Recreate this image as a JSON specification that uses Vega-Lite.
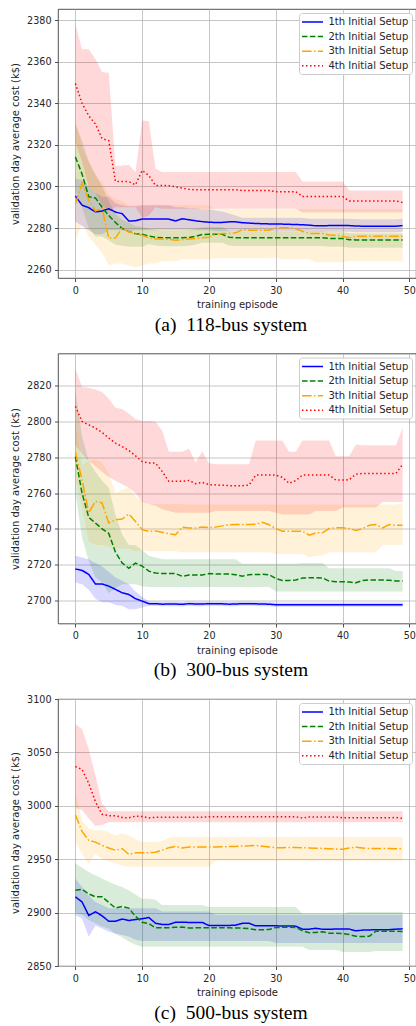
{
"$schema":"https://vega.github.io/schema/vega-lite/v6.json",
"padding":{"left":10,"top":8,"right":0,"bottom":0},
"background":"white",
"config":{
 "font":"DejaVu Sans",
 "view":{"stroke":"#262626","strokeWidth":0.8},
 "axis":{"labelFont":"DejaVu Sans","labelFontSize":9.6,"labelColor":"#262626","titleFont":"DejaVu Sans","titleFontSize":10,"titleFontWeight":"normal","titleColor":"#262626","domain":false,"tickColor":"#262626","tickSize":3.5,"tickWidth":0.8,"labelPadding":3.5,"gridColor":"#b8b8b8","gridWidth":0.8},
 "legend":{"fillColor":"rgba(255,255,255,0.85)","strokeColor":"#cccccc","cornerRadius":3,"padding":3,"symbolType":"M-2,0H2","symbolSize":110.25,"symbolStrokeWidth":1.5,"symbolOffset":4.5,"labelFont":"DejaVu Sans","labelFontSize":10,"labelColor":"#262626","labelOffset":10,"rowPadding":3.6}
},
"datasets":{"d":[
{"p":1,"k":1,"x":0,"m":2295.4,"l":2283,"h":2304},{"p":1,"k":1,"x":1,"m":2291,"l":2281,"h":2303},{"p":1,"k":1,"x":2,"m":2289.8,"l":2279,"h":2300},{"p":1,"k":1,"x":3,"m":2287.8,"l":2277,"h":2297},{"p":1,"k":1,"x":4,"m":2288.2,"l":2277,"h":2295},{"p":1,"k":1,"x":5,"m":2289.3,"l":2279,"h":2295},{"p":1,"k":1,"x":6,"m":2287.7,"l":2279,"h":2292},{"p":1,"k":1,"x":7,"m":2286.9,"l":2279,"h":2291},{"p":1,"k":1,"x":8,"m":2283.4,"l":2278.5,"h":2290.5},{"p":1,"k":1,"x":9,"m":2283.5,"l":2279,"h":2290.5},
{"p":1,"k":1,"x":10,"m":2284.4,"l":2279,"h":2291},{"p":1,"k":1,"x":11,"m":2284.4,"l":2279,"h":2291},{"p":1,"k":1,"x":12,"m":2284.3,"l":2279,"h":2291},{"p":1,"k":1,"x":13,"m":2284.4,"l":2279,"h":2291},{"p":1,"k":1,"x":14,"m":2284.3,"l":2279,"h":2291},{"p":1,"k":1,"x":15,"m":2283.4,"l":2279,"h":2290},{"p":1,"k":1,"x":16,"m":2284.5,"l":2279,"h":2290},{"p":1,"k":1,"x":17,"m":2284,"l":2279,"h":2289.5},{"p":1,"k":1,"x":18,"m":2283.5,"l":2279,"h":2289.5},{"p":1,"k":1,"x":19,"m":2283.1,"l":2279,"h":2289},
{"p":1,"k":1,"x":20,"m":2282.8,"l":2279,"h":2289},{"p":1,"k":1,"x":21,"m":2282.7,"l":2278.5,"h":2288.5},{"p":1,"k":1,"x":22,"m":2282.7,"l":2278.5,"h":2288},{"p":1,"k":1,"x":23,"m":2283,"l":2278.5,"h":2287},{"p":1,"k":1,"x":24,"m":2283,"l":2278.5,"h":2286},{"p":1,"k":1,"x":25,"m":2282.6,"l":2278.5,"h":2285},{"p":1,"k":1,"x":26,"m":2282.4,"l":2278.5,"h":2285},{"p":1,"k":1,"x":27,"m":2282.2,"l":2278.5,"h":2285},{"p":1,"k":1,"x":28,"m":2282.1,"l":2278.5,"h":2285},{"p":1,"k":1,"x":29,"m":2282,"l":2278.5,"h":2285},
{"p":1,"k":1,"x":30,"m":2282,"l":2278.5,"h":2285},{"p":1,"k":1,"x":31,"m":2281.9,"l":2278.5,"h":2285},{"p":1,"k":1,"x":32,"m":2281.8,"l":2278.5,"h":2285},{"p":1,"k":1,"x":33,"m":2281.7,"l":2278.5,"h":2285},{"p":1,"k":1,"x":34,"m":2281.6,"l":2278.5,"h":2285},{"p":1,"k":1,"x":35,"m":2281.4,"l":2278.3,"h":2284.5},{"p":1,"k":1,"x":36,"m":2281.1,"l":2278.2,"h":2284.5},{"p":1,"k":1,"x":37,"m":2281.1,"l":2278.2,"h":2284.5},{"p":1,"k":1,"x":38,"m":2281.2,"l":2278.2,"h":2284.5},{"p":1,"k":1,"x":39,"m":2281.2,"l":2278.2,"h":2284.5},
{"p":1,"k":1,"x":40,"m":2281.2,"l":2278.2,"h":2284.5},{"p":1,"k":1,"x":41,"m":2281.2,"l":2278.2,"h":2284.5},{"p":1,"k":1,"x":42,"m":2281,"l":2278,"h":2284.3},{"p":1,"k":1,"x":43,"m":2280.9,"l":2278,"h":2284.2},{"p":1,"k":1,"x":44,"m":2280.9,"l":2278,"h":2284.2},{"p":1,"k":1,"x":45,"m":2280.9,"l":2278,"h":2284.2},{"p":1,"k":1,"x":46,"m":2280.9,"l":2278,"h":2284.2},{"p":1,"k":1,"x":47,"m":2280.9,"l":2278,"h":2284.2},{"p":1,"k":1,"x":48,"m":2280.9,"l":2278,"h":2284.2},{"p":1,"k":1,"x":49,"m":2281.2,"l":2278.2,"h":2284.5},

{"p":1,"k":2,"x":0,"m":2314.2,"l":2298,"h":2330},{"p":1,"k":2,"x":1,"m":2306,"l":2290,"h":2322},{"p":1,"k":2,"x":2,"m":2295,"l":2280,"h":2312},{"p":1,"k":2,"x":3,"m":2294.5,"l":2276,"h":2306},{"p":1,"k":2,"x":4,"m":2290,"l":2276,"h":2300},{"p":1,"k":2,"x":5,"m":2286,"l":2274,"h":2293},{"p":1,"k":2,"x":6,"m":2282.7,"l":2272,"h":2287},{"p":1,"k":2,"x":7,"m":2279.8,"l":2271.5,"h":2284},{"p":1,"k":2,"x":8,"m":2278.3,"l":2271,"h":2282.5},{"p":1,"k":2,"x":9,"m":2277.3,"l":2271,"h":2281},
{"p":1,"k":2,"x":10,"m":2277,"l":2271,"h":2280.5},{"p":1,"k":2,"x":11,"m":2276.2,"l":2272.2,"h":2279.7},{"p":1,"k":2,"x":12,"m":2275.6,"l":2271.6,"h":2279.1},{"p":1,"k":2,"x":13,"m":2275.3,"l":2271.3,"h":2278.8},{"p":1,"k":2,"x":14,"m":2275.3,"l":2271.3,"h":2278.8},{"p":1,"k":2,"x":15,"m":2275.3,"l":2271.3,"h":2278.8},{"p":1,"k":2,"x":16,"m":2275.3,"l":2271.3,"h":2278.8},{"p":1,"k":2,"x":17,"m":2275.5,"l":2271.5,"h":2279},{"p":1,"k":2,"x":18,"m":2276,"l":2272,"h":2279.5},{"p":1,"k":2,"x":19,"m":2276.9,"l":2272.9,"h":2280.4},
{"p":1,"k":2,"x":20,"m":2277,"l":2273,"h":2280.5},{"p":1,"k":2,"x":21,"m":2277,"l":2273,"h":2280.5},{"p":1,"k":2,"x":22,"m":2277,"l":2273,"h":2280.5},{"p":1,"k":2,"x":23,"m":2275.6,"l":2271.6,"h":2278.6},{"p":1,"k":2,"x":24,"m":2275.4,"l":2271.4,"h":2278.4},{"p":1,"k":2,"x":25,"m":2275.4,"l":2271.4,"h":2278.4},{"p":1,"k":2,"x":26,"m":2275.4,"l":2271.4,"h":2278.4},{"p":1,"k":2,"x":27,"m":2275.4,"l":2271.4,"h":2278.4},{"p":1,"k":2,"x":28,"m":2275.4,"l":2271.4,"h":2278.4},{"p":1,"k":2,"x":29,"m":2275.4,"l":2271.4,"h":2278.4},
{"p":1,"k":2,"x":30,"m":2275.4,"l":2271.4,"h":2278.4},{"p":1,"k":2,"x":31,"m":2275.4,"l":2271.4,"h":2278.4},{"p":1,"k":2,"x":32,"m":2275.4,"l":2271.4,"h":2278.4},{"p":1,"k":2,"x":33,"m":2275.4,"l":2271.4,"h":2278.4},{"p":1,"k":2,"x":34,"m":2275.4,"l":2271.4,"h":2278.4},{"p":1,"k":2,"x":35,"m":2275.4,"l":2271.4,"h":2278.4},{"p":1,"k":2,"x":36,"m":2275.4,"l":2271.4,"h":2278.4},{"p":1,"k":2,"x":37,"m":2275.4,"l":2271.4,"h":2278.4},{"p":1,"k":2,"x":38,"m":2275,"l":2271,"h":2278},{"p":1,"k":2,"x":39,"m":2275,"l":2271,"h":2278},
{"p":1,"k":2,"x":40,"m":2275,"l":2271,"h":2278},{"p":1,"k":2,"x":41,"m":2274.4,"l":2270.6,"h":2277.5},{"p":1,"k":2,"x":42,"m":2274.3,"l":2270.5,"h":2277.4},{"p":1,"k":2,"x":43,"m":2274.3,"l":2270.5,"h":2277.4},{"p":1,"k":2,"x":44,"m":2274.3,"l":2270.5,"h":2277.4},{"p":1,"k":2,"x":45,"m":2274.3,"l":2270.5,"h":2277.4},{"p":1,"k":2,"x":46,"m":2274.3,"l":2270.5,"h":2277.4},{"p":1,"k":2,"x":47,"m":2274.3,"l":2270.5,"h":2277.4},{"p":1,"k":2,"x":48,"m":2274.3,"l":2270.5,"h":2277.4},{"p":1,"k":2,"x":49,"m":2274.3,"l":2270.5,"h":2277.4},

{"p":1,"k":3,"x":0,"m":2291.5,"l":2274,"h":2333},{"p":1,"k":3,"x":1,"m":2301.5,"l":2282,"h":2318},{"p":1,"k":3,"x":2,"m":2293.5,"l":2276,"h":2312},{"p":1,"k":3,"x":3,"m":2288.2,"l":2272,"h":2305},{"p":1,"k":3,"x":4,"m":2289.5,"l":2268,"h":2302},{"p":1,"k":3,"x":5,"m":2275.2,"l":2262,"h":2296},{"p":1,"k":3,"x":6,"m":2275.2,"l":2263,"h":2294},{"p":1,"k":3,"x":7,"m":2280,"l":2263,"h":2293},{"p":1,"k":3,"x":8,"m":2278.2,"l":2262,"h":2291},{"p":1,"k":3,"x":9,"m":2277.3,"l":2261,"h":2291},
{"p":1,"k":3,"x":10,"m":2276.6,"l":2262,"h":2291},{"p":1,"k":3,"x":11,"m":2275.3,"l":2263,"h":2291},{"p":1,"k":3,"x":12,"m":2274.8,"l":2263,"h":2291},{"p":1,"k":3,"x":13,"m":2274.7,"l":2264,"h":2291},{"p":1,"k":3,"x":14,"m":2274.5,"l":2264,"h":2291},{"p":1,"k":3,"x":15,"m":2274.2,"l":2264,"h":2291},{"p":1,"k":3,"x":16,"m":2274.4,"l":2265,"h":2291},{"p":1,"k":3,"x":17,"m":2274.8,"l":2265,"h":2291},{"p":1,"k":3,"x":18,"m":2275,"l":2265,"h":2291},{"p":1,"k":3,"x":19,"m":2275.3,"l":2265,"h":2291},
{"p":1,"k":3,"x":20,"m":2275.6,"l":2265,"h":2291},{"p":1,"k":3,"x":21,"m":2277,"l":2265.5,"h":2289},{"p":1,"k":3,"x":22,"m":2277.4,"l":2265.5,"h":2289},{"p":1,"k":3,"x":23,"m":2277.4,"l":2265.5,"h":2289},{"p":1,"k":3,"x":24,"m":2277.7,"l":2265.5,"h":2289},{"p":1,"k":3,"x":25,"m":2279.2,"l":2265.5,"h":2289},{"p":1,"k":3,"x":26,"m":2279,"l":2265.5,"h":2289},{"p":1,"k":3,"x":27,"m":2278.9,"l":2265.5,"h":2289},{"p":1,"k":3,"x":28,"m":2278.9,"l":2265.5,"h":2289},{"p":1,"k":3,"x":29,"m":2279,"l":2265.5,"h":2289},
{"p":1,"k":3,"x":30,"m":2280.2,"l":2266,"h":2289},{"p":1,"k":3,"x":31,"m":2280.2,"l":2265,"h":2289},{"p":1,"k":3,"x":32,"m":2280.2,"l":2265,"h":2289},{"p":1,"k":3,"x":33,"m":2279.7,"l":2265,"h":2289},{"p":1,"k":3,"x":34,"m":2278.5,"l":2265,"h":2289},{"p":1,"k":3,"x":35,"m":2277.4,"l":2265,"h":2289},{"p":1,"k":3,"x":36,"m":2277.4,"l":2263.6,"h":2289},{"p":1,"k":3,"x":37,"m":2277.4,"l":2263.6,"h":2289},{"p":1,"k":3,"x":38,"m":2276.7,"l":2263.6,"h":2289},{"p":1,"k":3,"x":39,"m":2276.6,"l":2263.6,"h":2289},
{"p":1,"k":3,"x":40,"m":2276,"l":2263.6,"h":2289},{"p":1,"k":3,"x":41,"m":2275.3,"l":2264,"h":2289},{"p":1,"k":3,"x":42,"m":2276.1,"l":2264,"h":2289},{"p":1,"k":3,"x":43,"m":2276.1,"l":2264,"h":2289},{"p":1,"k":3,"x":44,"m":2276.1,"l":2264,"h":2289},{"p":1,"k":3,"x":45,"m":2276.1,"l":2264,"h":2289},{"p":1,"k":3,"x":46,"m":2276.1,"l":2264,"h":2289},{"p":1,"k":3,"x":47,"m":2276.1,"l":2264,"h":2289},{"p":1,"k":3,"x":48,"m":2276.1,"l":2264,"h":2289},{"p":1,"k":3,"x":49,"m":2276.1,"l":2264,"h":2289},

{"p":1,"k":4,"x":0,"m":2349.5,"l":2321,"h":2378},{"p":1,"k":4,"x":1,"m":2340,"l":2312,"h":2366},{"p":1,"k":4,"x":2,"m":2334,"l":2300,"h":2366},{"p":1,"k":4,"x":3,"m":2330,"l":2297,"h":2361.3},{"p":1,"k":4,"x":4,"m":2323,"l":2291,"h":2355},{"p":1,"k":4,"x":5,"m":2322,"l":2288,"h":2354.6},{"p":1,"k":4,"x":6,"m":2302.4,"l":2290,"h":2310},{"p":1,"k":4,"x":7,"m":2302.4,"l":2290,"h":2310},{"p":1,"k":4,"x":8,"m":2302.3,"l":2290,"h":2310.4},{"p":1,"k":4,"x":9,"m":2300.8,"l":2290,"h":2307},
{"p":1,"k":4,"x":10,"m":2307.7,"l":2285,"h":2331.7},{"p":1,"k":4,"x":11,"m":2305.3,"l":2286,"h":2331.4},{"p":1,"k":4,"x":12,"m":2300.5,"l":2290,"h":2308.5},{"p":1,"k":4,"x":13,"m":2300.5,"l":2289.3,"h":2307},{"p":1,"k":4,"x":14,"m":2300.4,"l":2289.3,"h":2307},{"p":1,"k":4,"x":15,"m":2299.8,"l":2289.3,"h":2307},{"p":1,"k":4,"x":16,"m":2299.2,"l":2289.3,"h":2307},{"p":1,"k":4,"x":17,"m":2298.6,"l":2289.3,"h":2307},{"p":1,"k":4,"x":18,"m":2298.4,"l":2289.3,"h":2307},{"p":1,"k":4,"x":19,"m":2298.4,"l":2289.3,"h":2307},
{"p":1,"k":4,"x":20,"m":2298.4,"l":2289.3,"h":2307},{"p":1,"k":4,"x":21,"m":2298.4,"l":2289.3,"h":2307},{"p":1,"k":4,"x":22,"m":2298.4,"l":2289.3,"h":2307},{"p":1,"k":4,"x":23,"m":2298.4,"l":2289.3,"h":2307},{"p":1,"k":4,"x":24,"m":2298.4,"l":2289.3,"h":2307},{"p":1,"k":4,"x":25,"m":2298,"l":2289.3,"h":2307},{"p":1,"k":4,"x":26,"m":2298,"l":2289.3,"h":2307},{"p":1,"k":4,"x":27,"m":2298,"l":2289.3,"h":2307},{"p":1,"k":4,"x":28,"m":2298,"l":2289.3,"h":2307},{"p":1,"k":4,"x":29,"m":2298,"l":2289.3,"h":2307},
{"p":1,"k":4,"x":30,"m":2297.5,"l":2289.3,"h":2307},{"p":1,"k":4,"x":31,"m":2297.5,"l":2289.3,"h":2307},{"p":1,"k":4,"x":32,"m":2297.5,"l":2289.3,"h":2307},{"p":1,"k":4,"x":33,"m":2297.5,"l":2289.3,"h":2307},{"p":1,"k":4,"x":34,"m":2295.2,"l":2287.5,"h":2302.4},{"p":1,"k":4,"x":35,"m":2295.2,"l":2287.5,"h":2302.4},{"p":1,"k":4,"x":36,"m":2295.2,"l":2287.5,"h":2302.4},{"p":1,"k":4,"x":37,"m":2295.2,"l":2287.5,"h":2302.4},{"p":1,"k":4,"x":38,"m":2295.2,"l":2287.5,"h":2302.4},{"p":1,"k":4,"x":39,"m":2295.2,"l":2287.5,"h":2302.4},
{"p":1,"k":4,"x":40,"m":2295.2,"l":2287.5,"h":2302.4},{"p":1,"k":4,"x":41,"m":2293,"l":2287.5,"h":2298.1},{"p":1,"k":4,"x":42,"m":2293,"l":2287.5,"h":2298.1},{"p":1,"k":4,"x":43,"m":2293,"l":2287.5,"h":2298.1},{"p":1,"k":4,"x":44,"m":2293,"l":2287.5,"h":2298.1},{"p":1,"k":4,"x":45,"m":2293,"l":2287.5,"h":2298.1},{"p":1,"k":4,"x":46,"m":2293,"l":2287.5,"h":2298.1},{"p":1,"k":4,"x":47,"m":2293,"l":2287.5,"h":2298.1},{"p":1,"k":4,"x":48,"m":2293,"l":2287.5,"h":2298.1},{"p":1,"k":4,"x":49,"m":2292.3,"l":2287.5,"h":2298.1},

{"p":2,"k":1,"x":0,"m":2717.6,"l":2710,"h":2725},{"p":2,"k":1,"x":1,"m":2716.8,"l":2709,"h":2724},{"p":2,"k":1,"x":2,"m":2714.6,"l":2706,"h":2723},{"p":2,"k":1,"x":3,"m":2709.2,"l":2701,"h":2721},{"p":2,"k":1,"x":4,"m":2709.2,"l":2699,"h":2719},{"p":2,"k":1,"x":5,"m":2708,"l":2699,"h":2716},{"p":2,"k":1,"x":6,"m":2706.2,"l":2697.5,"h":2713},{"p":2,"k":1,"x":7,"m":2704.3,"l":2697,"h":2711},{"p":2,"k":1,"x":8,"m":2703.3,"l":2695,"h":2709},{"p":2,"k":1,"x":9,"m":2701,"l":2695,"h":2705},
{"p":2,"k":1,"x":10,"m":2699.6,"l":2696,"h":2702},{"p":2,"k":1,"x":11,"m":2698.2,"l":2697,"h":2699.4},{"p":2,"k":1,"x":12,"m":2698.2,"l":2697,"h":2699.4},{"p":2,"k":1,"x":13,"m":2697.9,"l":2696.7,"h":2699.1},{"p":2,"k":1,"x":14,"m":2698,"l":2696.8,"h":2699.2},{"p":2,"k":1,"x":15,"m":2698,"l":2696.8,"h":2699.2},{"p":2,"k":1,"x":16,"m":2697.8,"l":2696.6,"h":2699},{"p":2,"k":1,"x":17,"m":2698.2,"l":2697,"h":2699.4},{"p":2,"k":1,"x":18,"m":2698,"l":2696.8,"h":2699.2},{"p":2,"k":1,"x":19,"m":2698,"l":2696.8,"h":2699.2},
{"p":2,"k":1,"x":20,"m":2698.2,"l":2697,"h":2699.4},{"p":2,"k":1,"x":21,"m":2698.1,"l":2696.9,"h":2699.3},{"p":2,"k":1,"x":22,"m":2698.1,"l":2696.9,"h":2699.3},{"p":2,"k":1,"x":23,"m":2697.9,"l":2696.7,"h":2699.1},{"p":2,"k":1,"x":24,"m":2698,"l":2696.8,"h":2699.2},{"p":2,"k":1,"x":25,"m":2698.2,"l":2697,"h":2699.4},{"p":2,"k":1,"x":26,"m":2698.2,"l":2697,"h":2699.4},{"p":2,"k":1,"x":27,"m":2698.1,"l":2696.9,"h":2699.3},{"p":2,"k":1,"x":28,"m":2698,"l":2696.8,"h":2699.2},{"p":2,"k":1,"x":29,"m":2697.9,"l":2696.7,"h":2699.1},
{"p":2,"k":1,"x":30,"m":2697.6,"l":2696.4,"h":2698.8},{"p":2,"k":1,"x":31,"m":2697.6,"l":2696.4,"h":2698.8},{"p":2,"k":1,"x":32,"m":2697.6,"l":2696.4,"h":2698.8},{"p":2,"k":1,"x":33,"m":2697.6,"l":2696.4,"h":2698.8},{"p":2,"k":1,"x":34,"m":2697.6,"l":2696.4,"h":2698.8},{"p":2,"k":1,"x":35,"m":2697.6,"l":2696.4,"h":2698.8},{"p":2,"k":1,"x":36,"m":2697.6,"l":2696.4,"h":2698.8},{"p":2,"k":1,"x":37,"m":2697.6,"l":2696.4,"h":2698.8},{"p":2,"k":1,"x":38,"m":2697.6,"l":2696.4,"h":2698.8},{"p":2,"k":1,"x":39,"m":2697.6,"l":2696.4,"h":2698.8},
{"p":2,"k":1,"x":40,"m":2697.6,"l":2696.4,"h":2698.8},{"p":2,"k":1,"x":41,"m":2697.6,"l":2696.4,"h":2698.8},{"p":2,"k":1,"x":42,"m":2697.6,"l":2696.4,"h":2698.8},{"p":2,"k":1,"x":43,"m":2697.6,"l":2696.4,"h":2698.8},{"p":2,"k":1,"x":44,"m":2697.6,"l":2696.4,"h":2698.8},{"p":2,"k":1,"x":45,"m":2697.6,"l":2696.4,"h":2698.8},{"p":2,"k":1,"x":46,"m":2697.6,"l":2696.4,"h":2698.8},{"p":2,"k":1,"x":47,"m":2697.6,"l":2696.4,"h":2698.8},{"p":2,"k":1,"x":48,"m":2697.6,"l":2696.4,"h":2698.8},{"p":2,"k":1,"x":49,"m":2697.6,"l":2696.4,"h":2698.8},

{"p":2,"k":2,"x":0,"m":2780.5,"l":2760,"h":2818},{"p":2,"k":2,"x":1,"m":2760,"l":2735,"h":2792},{"p":2,"k":2,"x":2,"m":2746.5,"l":2722,"h":2778},{"p":2,"k":2,"x":3,"m":2743.3,"l":2713,"h":2772},{"p":2,"k":2,"x":4,"m":2740,"l":2710,"h":2767},{"p":2,"k":2,"x":5,"m":2737.5,"l":2704,"h":2763},{"p":2,"k":2,"x":6,"m":2727,"l":2707,"h":2748},{"p":2,"k":2,"x":7,"m":2721,"l":2709,"h":2737},{"p":2,"k":2,"x":8,"m":2718,"l":2709,"h":2731},{"p":2,"k":2,"x":9,"m":2720.9,"l":2709,"h":2731},
{"p":2,"k":2,"x":10,"m":2719.2,"l":2708,"h":2728},{"p":2,"k":2,"x":11,"m":2716.4,"l":2707.5,"h":2725},{"p":2,"k":2,"x":12,"m":2715.3,"l":2707.5,"h":2724},{"p":2,"k":2,"x":13,"m":2715,"l":2707.5,"h":2723},{"p":2,"k":2,"x":14,"m":2715,"l":2707.5,"h":2723},{"p":2,"k":2,"x":15,"m":2715,"l":2707.5,"h":2723},{"p":2,"k":2,"x":16,"m":2713.5,"l":2707.5,"h":2723},{"p":2,"k":2,"x":17,"m":2714.2,"l":2707.5,"h":2723},{"p":2,"k":2,"x":18,"m":2714.2,"l":2707.5,"h":2723},{"p":2,"k":2,"x":19,"m":2714.2,"l":2707.5,"h":2723},
{"p":2,"k":2,"x":20,"m":2715,"l":2707.5,"h":2723},{"p":2,"k":2,"x":21,"m":2714.8,"l":2707.5,"h":2723},{"p":2,"k":2,"x":22,"m":2714.8,"l":2707.5,"h":2723},{"p":2,"k":2,"x":23,"m":2714.8,"l":2707.5,"h":2723},{"p":2,"k":2,"x":24,"m":2714.4,"l":2707.5,"h":2723},{"p":2,"k":2,"x":25,"m":2713.6,"l":2707.5,"h":2720.5},{"p":2,"k":2,"x":26,"m":2714.4,"l":2707.5,"h":2720.5},{"p":2,"k":2,"x":27,"m":2714.5,"l":2707.5,"h":2720.5},{"p":2,"k":2,"x":28,"m":2714.6,"l":2707.5,"h":2720.5},{"p":2,"k":2,"x":29,"m":2714.4,"l":2707.5,"h":2720.5},
{"p":2,"k":2,"x":30,"m":2712.3,"l":2705,"h":2720.5},{"p":2,"k":2,"x":31,"m":2711.2,"l":2705,"h":2720.5},{"p":2,"k":2,"x":32,"m":2711.2,"l":2705,"h":2720.5},{"p":2,"k":2,"x":33,"m":2711.4,"l":2705,"h":2720.5},{"p":2,"k":2,"x":34,"m":2712.5,"l":2705,"h":2721},{"p":2,"k":2,"x":35,"m":2712.7,"l":2705,"h":2721},{"p":2,"k":2,"x":36,"m":2712.7,"l":2705,"h":2721},{"p":2,"k":2,"x":37,"m":2712.6,"l":2705,"h":2721},{"p":2,"k":2,"x":38,"m":2710.8,"l":2705,"h":2718},{"p":2,"k":2,"x":39,"m":2710.5,"l":2705,"h":2718},
{"p":2,"k":2,"x":40,"m":2710.5,"l":2705,"h":2718},{"p":2,"k":2,"x":41,"m":2710.3,"l":2705,"h":2718},{"p":2,"k":2,"x":42,"m":2709.9,"l":2705,"h":2718},{"p":2,"k":2,"x":43,"m":2711.2,"l":2705,"h":2718},{"p":2,"k":2,"x":44,"m":2711.4,"l":2705,"h":2718},{"p":2,"k":2,"x":45,"m":2711.4,"l":2705,"h":2718},{"p":2,"k":2,"x":46,"m":2711.4,"l":2705,"h":2718},{"p":2,"k":2,"x":47,"m":2711.3,"l":2705,"h":2718},{"p":2,"k":2,"x":48,"m":2710.9,"l":2705,"h":2716.5},{"p":2,"k":2,"x":49,"m":2710.8,"l":2705,"h":2716.5},

{"p":2,"k":3,"x":0,"m":2782.9,"l":2768,"h":2800},{"p":2,"k":3,"x":1,"m":2767.5,"l":2752,"h":2776},{"p":2,"k":3,"x":2,"m":2749,"l":2733,"h":2778},{"p":2,"k":3,"x":3,"m":2755.4,"l":2731,"h":2778.7},{"p":2,"k":3,"x":4,"m":2754.5,"l":2731,"h":2777},{"p":2,"k":3,"x":5,"m":2743.3,"l":2730,"h":2771},{"p":2,"k":3,"x":6,"m":2745.1,"l":2729,"h":2760},{"p":2,"k":3,"x":7,"m":2745.5,"l":2729,"h":2762},{"p":2,"k":3,"x":8,"m":2748.3,"l":2729,"h":2763},{"p":2,"k":3,"x":9,"m":2744.2,"l":2727.5,"h":2758},
{"p":2,"k":3,"x":10,"m":2739.6,"l":2728,"h":2755.4},{"p":2,"k":3,"x":11,"m":2738.6,"l":2727.5,"h":2754.1},{"p":2,"k":3,"x":12,"m":2738.8,"l":2727.5,"h":2754.1},{"p":2,"k":3,"x":13,"m":2738.1,"l":2727.5,"h":2754.1},{"p":2,"k":3,"x":14,"m":2737.3,"l":2727.5,"h":2754.1},{"p":2,"k":3,"x":15,"m":2736.8,"l":2727.5,"h":2754.1},{"p":2,"k":3,"x":16,"m":2741,"l":2727,"h":2753.6},{"p":2,"k":3,"x":17,"m":2740.5,"l":2727,"h":2753.6},{"p":2,"k":3,"x":18,"m":2740.5,"l":2727,"h":2753.6},{"p":2,"k":3,"x":19,"m":2741,"l":2727,"h":2753.6},
{"p":2,"k":3,"x":20,"m":2740.7,"l":2727,"h":2753.6},{"p":2,"k":3,"x":21,"m":2741,"l":2727,"h":2753.6},{"p":2,"k":3,"x":22,"m":2741.7,"l":2727,"h":2753.6},{"p":2,"k":3,"x":23,"m":2742.3,"l":2727,"h":2753.6},{"p":2,"k":3,"x":24,"m":2742.4,"l":2727,"h":2753.6},{"p":2,"k":3,"x":25,"m":2742.4,"l":2727,"h":2753.6},{"p":2,"k":3,"x":26,"m":2742.4,"l":2727,"h":2753.6},{"p":2,"k":3,"x":27,"m":2742.6,"l":2727,"h":2753.6},{"p":2,"k":3,"x":28,"m":2743.7,"l":2727,"h":2753.6},{"p":2,"k":3,"x":29,"m":2742.3,"l":2727,"h":2753.6},
{"p":2,"k":3,"x":30,"m":2740.2,"l":2726,"h":2753.6},{"p":2,"k":3,"x":31,"m":2738.7,"l":2726,"h":2753.6},{"p":2,"k":3,"x":32,"m":2738.7,"l":2726,"h":2753.6},{"p":2,"k":3,"x":33,"m":2738.7,"l":2726,"h":2753.6},{"p":2,"k":3,"x":34,"m":2738.7,"l":2726,"h":2753.6},{"p":2,"k":3,"x":35,"m":2736.5,"l":2724,"h":2753.6},{"p":2,"k":3,"x":36,"m":2737.8,"l":2725,"h":2753.6},{"p":2,"k":3,"x":37,"m":2737.8,"l":2725,"h":2753.6},{"p":2,"k":3,"x":38,"m":2740.2,"l":2727,"h":2753.6},{"p":2,"k":3,"x":39,"m":2740.6,"l":2727,"h":2753.6},
{"p":2,"k":3,"x":40,"m":2740.6,"l":2727,"h":2753.6},{"p":2,"k":3,"x":41,"m":2740.2,"l":2727,"h":2753.6},{"p":2,"k":3,"x":42,"m":2739.1,"l":2727,"h":2753.6},{"p":2,"k":3,"x":43,"m":2740.2,"l":2727,"h":2753.6},{"p":2,"k":3,"x":44,"m":2742,"l":2727,"h":2753.6},{"p":2,"k":3,"x":45,"m":2742.4,"l":2727,"h":2753.6},{"p":2,"k":3,"x":46,"m":2740.6,"l":2731,"h":2753.6},{"p":2,"k":3,"x":47,"m":2742.4,"l":2731,"h":2753.6},{"p":2,"k":3,"x":48,"m":2742,"l":2731,"h":2753.6},{"p":2,"k":3,"x":49,"m":2742,"l":2731,"h":2754.5},

{"p":2,"k":4,"x":0,"m":2808.5,"l":2787,"h":2829.9},{"p":2,"k":4,"x":1,"m":2800.1,"l":2782,"h":2819.3},{"p":2,"k":4,"x":2,"m":2798.2,"l":2778,"h":2819},{"p":2,"k":4,"x":3,"m":2796.4,"l":2775,"h":2818},{"p":2,"k":4,"x":4,"m":2793.9,"l":2772,"h":2816.5},{"p":2,"k":4,"x":5,"m":2790.8,"l":2769,"h":2812.8},{"p":2,"k":4,"x":6,"m":2788,"l":2767,"h":2807.7},{"p":2,"k":4,"x":7,"m":2786.1,"l":2765,"h":2807},{"p":2,"k":4,"x":8,"m":2783.9,"l":2763,"h":2804.6},{"p":2,"k":4,"x":9,"m":2780.9,"l":2760,"h":2801.5},
{"p":2,"k":4,"x":10,"m":2777.7,"l":2755,"h":2800.4},{"p":2,"k":4,"x":11,"m":2776.8,"l":2754,"h":2800.4},{"p":2,"k":4,"x":12,"m":2776.8,"l":2753,"h":2800},{"p":2,"k":4,"x":13,"m":2772.1,"l":2751,"h":2794.9},{"p":2,"k":4,"x":14,"m":2766.6,"l":2750,"h":2783.1},{"p":2,"k":4,"x":15,"m":2766.6,"l":2749,"h":2783.1},{"p":2,"k":4,"x":16,"m":2766.6,"l":2749,"h":2783.1},{"p":2,"k":4,"x":17,"m":2767.1,"l":2749,"h":2785},{"p":2,"k":4,"x":18,"m":2765.3,"l":2749,"h":2777.1},{"p":2,"k":4,"x":19,"m":2766,"l":2749,"h":2783.5},
{"p":2,"k":4,"x":20,"m":2764.8,"l":2749,"h":2776.7},{"p":2,"k":4,"x":21,"m":2764.6,"l":2750,"h":2776.1},{"p":2,"k":4,"x":22,"m":2764.4,"l":2750,"h":2776.1},{"p":2,"k":4,"x":23,"m":2764.2,"l":2750,"h":2776.1},{"p":2,"k":4,"x":24,"m":2764.2,"l":2750,"h":2776.1},{"p":2,"k":4,"x":25,"m":2764.2,"l":2750,"h":2776.1},{"p":2,"k":4,"x":26,"m":2764.5,"l":2750,"h":2776.1},{"p":2,"k":4,"x":27,"m":2770.1,"l":2750,"h":2789.4},{"p":2,"k":4,"x":28,"m":2770.1,"l":2750,"h":2789.4},{"p":2,"k":4,"x":29,"m":2770.1,"l":2750,"h":2789.4},
{"p":2,"k":4,"x":30,"m":2770.1,"l":2749,"h":2789.4},{"p":2,"k":4,"x":31,"m":2768.8,"l":2748,"h":2789.4},{"p":2,"k":4,"x":32,"m":2765.5,"l":2748,"h":2783.1},{"p":2,"k":4,"x":33,"m":2767,"l":2748,"h":2783.1},{"p":2,"k":4,"x":34,"m":2770.1,"l":2748,"h":2789.4},{"p":2,"k":4,"x":35,"m":2770.1,"l":2748,"h":2789.4},{"p":2,"k":4,"x":36,"m":2770.1,"l":2750,"h":2789.4},{"p":2,"k":4,"x":37,"m":2770.1,"l":2750,"h":2789.4},{"p":2,"k":4,"x":38,"m":2770.1,"l":2750,"h":2789.4},{"p":2,"k":4,"x":39,"m":2767.3,"l":2750,"h":2780.7},
{"p":2,"k":4,"x":40,"m":2767.3,"l":2752,"h":2780.7},{"p":2,"k":4,"x":41,"m":2767.5,"l":2752,"h":2780.7},{"p":2,"k":4,"x":42,"m":2770.6,"l":2752,"h":2787.2},{"p":2,"k":4,"x":43,"m":2771,"l":2752,"h":2786.8},{"p":2,"k":4,"x":44,"m":2771,"l":2752,"h":2786.8},{"p":2,"k":4,"x":45,"m":2771,"l":2752,"h":2786.8},{"p":2,"k":4,"x":46,"m":2771,"l":2755,"h":2786.8},{"p":2,"k":4,"x":47,"m":2771,"l":2755,"h":2786.8},{"p":2,"k":4,"x":48,"m":2771,"l":2755,"h":2786.8},{"p":2,"k":4,"x":49,"m":2776.1,"l":2755,"h":2796.7},

{"p":3,"k":1,"x":0,"m":2914.8,"l":2897.5,"h":2932},{"p":3,"k":1,"x":1,"m":2910,"l":2894.4,"h":2924},{"p":3,"k":1,"x":2,"m":2897.3,"l":2877.3,"h":2916},{"p":3,"k":1,"x":3,"m":2900.8,"l":2888,"h":2910},{"p":3,"k":1,"x":4,"m":2897,"l":2885,"h":2907},{"p":3,"k":1,"x":5,"m":2891.9,"l":2882,"h":2904},{"p":3,"k":1,"x":6,"m":2891.9,"l":2880.5,"h":2904},{"p":3,"k":1,"x":7,"m":2894,"l":2879,"h":2904},{"p":3,"k":1,"x":8,"m":2892.6,"l":2877.6,"h":2904},{"p":3,"k":1,"x":9,"m":2893.5,"l":2874.6,"h":2904},
{"p":3,"k":1,"x":10,"m":2894.2,"l":2873.5,"h":2904},{"p":3,"k":1,"x":11,"m":2895.4,"l":2873.5,"h":2904},{"p":3,"k":1,"x":12,"m":2890,"l":2873.5,"h":2904},{"p":3,"k":1,"x":13,"m":2888.9,"l":2873.5,"h":2901},{"p":3,"k":1,"x":14,"m":2888.9,"l":2873.5,"h":2901},{"p":3,"k":1,"x":15,"m":2891,"l":2873.5,"h":2901},{"p":3,"k":1,"x":16,"m":2891,"l":2873.5,"h":2901},{"p":3,"k":1,"x":17,"m":2890.8,"l":2873.5,"h":2901},{"p":3,"k":1,"x":18,"m":2890.8,"l":2873.5,"h":2901},{"p":3,"k":1,"x":19,"m":2890.8,"l":2873.5,"h":2901},
{"p":3,"k":1,"x":20,"m":2887.9,"l":2873.5,"h":2901},{"p":3,"k":1,"x":21,"m":2887.9,"l":2873.5,"h":2898},{"p":3,"k":1,"x":22,"m":2887.9,"l":2873.5,"h":2898},{"p":3,"k":1,"x":23,"m":2888,"l":2873.5,"h":2898},{"p":3,"k":1,"x":24,"m":2888.2,"l":2873.5,"h":2898},{"p":3,"k":1,"x":25,"m":2890,"l":2873.5,"h":2898},{"p":3,"k":1,"x":26,"m":2890,"l":2873.5,"h":2898},{"p":3,"k":1,"x":27,"m":2887.6,"l":2873.5,"h":2898},{"p":3,"k":1,"x":28,"m":2887.6,"l":2873.5,"h":2898},{"p":3,"k":1,"x":29,"m":2887.6,"l":2873.5,"h":2898},
{"p":3,"k":1,"x":30,"m":2887.6,"l":2871.5,"h":2898},{"p":3,"k":1,"x":31,"m":2887.5,"l":2871.5,"h":2898},{"p":3,"k":1,"x":32,"m":2887.5,"l":2871.5,"h":2898},{"p":3,"k":1,"x":33,"m":2887.3,"l":2871.5,"h":2898},{"p":3,"k":1,"x":34,"m":2884.5,"l":2871.5,"h":2898},{"p":3,"k":1,"x":35,"m":2884.5,"l":2871.5,"h":2898},{"p":3,"k":1,"x":36,"m":2885.3,"l":2871.5,"h":2898},{"p":3,"k":1,"x":37,"m":2884.4,"l":2871.5,"h":2898},{"p":3,"k":1,"x":38,"m":2884.4,"l":2871.5,"h":2898},{"p":3,"k":1,"x":39,"m":2884.6,"l":2871.5,"h":2898},
{"p":3,"k":1,"x":40,"m":2884.6,"l":2871.5,"h":2898},{"p":3,"k":1,"x":41,"m":2884.6,"l":2871.5,"h":2898},{"p":3,"k":1,"x":42,"m":2882.9,"l":2871.5,"h":2898},{"p":3,"k":1,"x":43,"m":2883.6,"l":2871.5,"h":2898},{"p":3,"k":1,"x":44,"m":2883.8,"l":2871.5,"h":2898},{"p":3,"k":1,"x":45,"m":2883.9,"l":2871.5,"h":2898},{"p":3,"k":1,"x":46,"m":2883.9,"l":2871.5,"h":2898},{"p":3,"k":1,"x":47,"m":2884,"l":2871.5,"h":2898},{"p":3,"k":1,"x":48,"m":2884.5,"l":2871.5,"h":2898},{"p":3,"k":1,"x":49,"m":2884.8,"l":2871.5,"h":2898},

{"p":3,"k":2,"x":0,"m":2921,"l":2900,"h":2946},{"p":3,"k":2,"x":1,"m":2921.8,"l":2898,"h":2942},{"p":3,"k":2,"x":2,"m":2917.5,"l":2893,"h":2938},{"p":3,"k":2,"x":3,"m":2914.8,"l":2890,"h":2935},{"p":3,"k":2,"x":4,"m":2914.8,"l":2887,"h":2932},{"p":3,"k":2,"x":5,"m":2909.5,"l":2885,"h":2929},{"p":3,"k":2,"x":6,"m":2904.3,"l":2880,"h":2926},{"p":3,"k":2,"x":7,"m":2905.8,"l":2877,"h":2924},{"p":3,"k":2,"x":8,"m":2904.2,"l":2873,"h":2921},{"p":3,"k":2,"x":9,"m":2896.5,"l":2870,"h":2917},
{"p":3,"k":2,"x":10,"m":2890.9,"l":2868,"h":2913},{"p":3,"k":2,"x":11,"m":2889.7,"l":2868,"h":2913},{"p":3,"k":2,"x":12,"m":2885.8,"l":2868,"h":2912},{"p":3,"k":2,"x":13,"m":2885.8,"l":2868,"h":2907},{"p":3,"k":2,"x":14,"m":2885.8,"l":2868,"h":2907},{"p":3,"k":2,"x":15,"m":2886.2,"l":2868,"h":2907},{"p":3,"k":2,"x":16,"m":2886.4,"l":2868,"h":2907},{"p":3,"k":2,"x":17,"m":2885.6,"l":2868,"h":2907},{"p":3,"k":2,"x":18,"m":2885.7,"l":2868,"h":2907},{"p":3,"k":2,"x":19,"m":2885.7,"l":2868,"h":2907},
{"p":3,"k":2,"x":20,"m":2885.7,"l":2868,"h":2905.3},{"p":3,"k":2,"x":21,"m":2885.7,"l":2868,"h":2905.3},{"p":3,"k":2,"x":22,"m":2885.7,"l":2868,"h":2905.3},{"p":3,"k":2,"x":23,"m":2885.7,"l":2868,"h":2905.3},{"p":3,"k":2,"x":24,"m":2885.6,"l":2868,"h":2905.3},{"p":3,"k":2,"x":25,"m":2885.5,"l":2868,"h":2905.3},{"p":3,"k":2,"x":26,"m":2885,"l":2868,"h":2905.3},{"p":3,"k":2,"x":27,"m":2883.9,"l":2868,"h":2905.3},{"p":3,"k":2,"x":28,"m":2883.9,"l":2868,"h":2905.3},{"p":3,"k":2,"x":29,"m":2884.2,"l":2868,"h":2905.3},
{"p":3,"k":2,"x":30,"m":2886,"l":2868,"h":2905.3},{"p":3,"k":2,"x":31,"m":2886.2,"l":2868,"h":2905.3},{"p":3,"k":2,"x":32,"m":2886.2,"l":2868,"h":2905.3},{"p":3,"k":2,"x":33,"m":2886,"l":2868,"h":2905.3},{"p":3,"k":2,"x":34,"m":2883,"l":2868,"h":2899},{"p":3,"k":2,"x":35,"m":2881.2,"l":2865,"h":2899},{"p":3,"k":2,"x":36,"m":2881.4,"l":2865,"h":2899},{"p":3,"k":2,"x":37,"m":2882,"l":2865,"h":2899},{"p":3,"k":2,"x":38,"m":2880.6,"l":2865,"h":2899},{"p":3,"k":2,"x":39,"m":2880.6,"l":2865,"h":2899},
{"p":3,"k":2,"x":40,"m":2880.5,"l":2863.2,"h":2899},{"p":3,"k":2,"x":41,"m":2879.5,"l":2863.2,"h":2900.6},{"p":3,"k":2,"x":42,"m":2877.8,"l":2863.2,"h":2900.6},{"p":3,"k":2,"x":43,"m":2877.6,"l":2863.2,"h":2900.6},{"p":3,"k":2,"x":44,"m":2877.8,"l":2863.2,"h":2900.6},{"p":3,"k":2,"x":45,"m":2882.6,"l":2864,"h":2900.6},{"p":3,"k":2,"x":46,"m":2882.6,"l":2864,"h":2900.6},{"p":3,"k":2,"x":47,"m":2882.6,"l":2864,"h":2900.6},{"p":3,"k":2,"x":48,"m":2882.5,"l":2864,"h":2900.6},{"p":3,"k":2,"x":49,"m":2882.4,"l":2864,"h":2900.6},

{"p":3,"k":3,"x":0,"m":2991.6,"l":2966,"h":3013},{"p":3,"k":3,"x":1,"m":2976,"l":2955,"h":2986},{"p":3,"k":3,"x":2,"m":2967.6,"l":2945.8,"h":2979},{"p":3,"k":3,"x":3,"m":2966,"l":2955,"h":2977},{"p":3,"k":3,"x":4,"m":2963,"l":2950,"h":2977},{"p":3,"k":3,"x":5,"m":2960.5,"l":2948,"h":2975.4},{"p":3,"k":3,"x":6,"m":2958.4,"l":2946,"h":2972.3},{"p":3,"k":3,"x":7,"m":2960,"l":2944,"h":2974},{"p":3,"k":3,"x":8,"m":2954.5,"l":2943,"h":2972.3},{"p":3,"k":3,"x":9,"m":2956,"l":2943,"h":2969},
{"p":3,"k":3,"x":10,"m":2956,"l":2943,"h":2966},{"p":3,"k":3,"x":11,"m":2956.1,"l":2943,"h":2966},{"p":3,"k":3,"x":12,"m":2956.6,"l":2943,"h":2966},{"p":3,"k":3,"x":13,"m":2958.5,"l":2943,"h":2967},{"p":3,"k":3,"x":14,"m":2960.8,"l":2943,"h":2970},{"p":3,"k":3,"x":15,"m":2962,"l":2943,"h":2970.7},{"p":3,"k":3,"x":16,"m":2960.5,"l":2943,"h":2970.7},{"p":3,"k":3,"x":17,"m":2961.5,"l":2943,"h":2970.7},{"p":3,"k":3,"x":18,"m":2961.4,"l":2943,"h":2970.7},{"p":3,"k":3,"x":19,"m":2961.5,"l":2943,"h":2970.7},
{"p":3,"k":3,"x":20,"m":2961.5,"l":2943,"h":2970.7},{"p":3,"k":3,"x":21,"m":2961.5,"l":2948.5,"h":2970.7},{"p":3,"k":3,"x":22,"m":2961.6,"l":2948.5,"h":2970.7},{"p":3,"k":3,"x":23,"m":2961.8,"l":2948.5,"h":2970.7},{"p":3,"k":3,"x":24,"m":2962,"l":2948.5,"h":2970.7},{"p":3,"k":3,"x":25,"m":2962.4,"l":2948.5,"h":2970.7},{"p":3,"k":3,"x":26,"m":2962.6,"l":2948.5,"h":2970.7},{"p":3,"k":3,"x":27,"m":2963,"l":2948.5,"h":2970.7},{"p":3,"k":3,"x":28,"m":2962.2,"l":2948.5,"h":2970.7},{"p":3,"k":3,"x":29,"m":2961.4,"l":2948.5,"h":2970.7},
{"p":3,"k":3,"x":30,"m":2960.8,"l":2948.5,"h":2970.7},{"p":3,"k":3,"x":31,"m":2960.8,"l":2948.5,"h":2970.7},{"p":3,"k":3,"x":32,"m":2960.9,"l":2948.5,"h":2970.7},{"p":3,"k":3,"x":33,"m":2961,"l":2948.5,"h":2970.7},{"p":3,"k":3,"x":34,"m":2960.8,"l":2948.5,"h":2970.7},{"p":3,"k":3,"x":35,"m":2960.6,"l":2948.5,"h":2970.7},{"p":3,"k":3,"x":36,"m":2960.3,"l":2948.5,"h":2970.7},{"p":3,"k":3,"x":37,"m":2960.1,"l":2948.5,"h":2970.7},{"p":3,"k":3,"x":38,"m":2959.8,"l":2948.5,"h":2970.7},{"p":3,"k":3,"x":39,"m":2959.5,"l":2948.5,"h":2970.7},
{"p":3,"k":3,"x":40,"m":2959.3,"l":2948.5,"h":2970.7},{"p":3,"k":3,"x":41,"m":2960.5,"l":2948.5,"h":2970.7},{"p":3,"k":3,"x":42,"m":2961.1,"l":2948.5,"h":2970.7},{"p":3,"k":3,"x":43,"m":2960.5,"l":2948.5,"h":2970.7},{"p":3,"k":3,"x":44,"m":2960,"l":2948.5,"h":2970.7},{"p":3,"k":3,"x":45,"m":2960,"l":2948.5,"h":2970.7},{"p":3,"k":3,"x":46,"m":2960,"l":2948.5,"h":2970.7},{"p":3,"k":3,"x":47,"m":2960,"l":2948.5,"h":2970.7},{"p":3,"k":3,"x":48,"m":2959.9,"l":2948.5,"h":2970.7},{"p":3,"k":3,"x":49,"m":2959.9,"l":2948.5,"h":2970.7},

{"p":3,"k":4,"x":0,"m":3036.8,"l":2998,"h":3076.6},{"p":3,"k":4,"x":1,"m":3034,"l":2996,"h":3072},{"p":3,"k":4,"x":2,"m":3021,"l":2988,"h":3053.3},{"p":3,"k":4,"x":3,"m":3004,"l":2981,"h":3028.3},{"p":3,"k":4,"x":4,"m":2992,"l":2982,"h":3002},{"p":3,"k":4,"x":5,"m":2990.8,"l":2984.7,"h":2995},{"p":3,"k":4,"x":6,"m":2990.8,"l":2984.7,"h":2995},{"p":3,"k":4,"x":7,"m":2989,"l":2984.7,"h":2995},{"p":3,"k":4,"x":8,"m":2988.8,"l":2984.7,"h":2995},{"p":3,"k":4,"x":9,"m":2990.3,"l":2984.7,"h":2995},
{"p":3,"k":4,"x":10,"m":2990,"l":2984.7,"h":2995},{"p":3,"k":4,"x":11,"m":2988.6,"l":2984.7,"h":2995},{"p":3,"k":4,"x":12,"m":2989.2,"l":2984.7,"h":2995},{"p":3,"k":4,"x":13,"m":2989.2,"l":2984.7,"h":2995},{"p":3,"k":4,"x":14,"m":2989.2,"l":2984.7,"h":2995},{"p":3,"k":4,"x":15,"m":2989.2,"l":2984.7,"h":2995},{"p":3,"k":4,"x":16,"m":2989.2,"l":2984.7,"h":2995},{"p":3,"k":4,"x":17,"m":2989.2,"l":2984.7,"h":2995},{"p":3,"k":4,"x":18,"m":2989.2,"l":2984.7,"h":2995},{"p":3,"k":4,"x":19,"m":2989.2,"l":2984.7,"h":2995},
{"p":3,"k":4,"x":20,"m":2989.8,"l":2984.7,"h":2995},{"p":3,"k":4,"x":21,"m":2989.8,"l":2984.7,"h":2995},{"p":3,"k":4,"x":22,"m":2989.8,"l":2984.7,"h":2995},{"p":3,"k":4,"x":23,"m":2989.8,"l":2984.7,"h":2995},{"p":3,"k":4,"x":24,"m":2989.8,"l":2984.7,"h":2995},{"p":3,"k":4,"x":25,"m":2989.8,"l":2984.7,"h":2995},{"p":3,"k":4,"x":26,"m":2989.8,"l":2984.7,"h":2995},{"p":3,"k":4,"x":27,"m":2989.8,"l":2984.7,"h":2995},{"p":3,"k":4,"x":28,"m":2989.8,"l":2984.7,"h":2995},{"p":3,"k":4,"x":29,"m":2989.8,"l":2984.7,"h":2995},
{"p":3,"k":4,"x":30,"m":2989.8,"l":2984.7,"h":2995},{"p":3,"k":4,"x":31,"m":2989.8,"l":2984.7,"h":2995},{"p":3,"k":4,"x":32,"m":2989.8,"l":2984.7,"h":2995},{"p":3,"k":4,"x":33,"m":2989.8,"l":2984.7,"h":2995},{"p":3,"k":4,"x":34,"m":2988.6,"l":2984.7,"h":2995},{"p":3,"k":4,"x":35,"m":2989.6,"l":2984.7,"h":2995},{"p":3,"k":4,"x":36,"m":2989.6,"l":2984.7,"h":2995},{"p":3,"k":4,"x":37,"m":2989.6,"l":2984.7,"h":2995},{"p":3,"k":4,"x":38,"m":2989.6,"l":2984.7,"h":2995},{"p":3,"k":4,"x":39,"m":2989.6,"l":2984.7,"h":2995},
{"p":3,"k":4,"x":40,"m":2988.8,"l":2984.7,"h":2995},{"p":3,"k":4,"x":41,"m":2988.8,"l":2984.7,"h":2995},{"p":3,"k":4,"x":42,"m":2988.8,"l":2984.7,"h":2995},{"p":3,"k":4,"x":43,"m":2988.8,"l":2984.7,"h":2995},{"p":3,"k":4,"x":44,"m":2988.8,"l":2984.7,"h":2995},{"p":3,"k":4,"x":45,"m":2988.8,"l":2984.7,"h":2995},{"p":3,"k":4,"x":46,"m":2988.8,"l":2984.7,"h":2995},{"p":3,"k":4,"x":47,"m":2988.8,"l":2984.7,"h":2995},{"p":3,"k":4,"x":48,"m":2989,"l":2984.7,"h":2995},{"p":3,"k":4,"x":49,"m":2988.2,"l":2984.7,"h":2995}
]},
"bounds":"flush",
"spacing":75.5,
"resolve":{"scale":{"y":"independent","color":"independent","strokeDash":"independent","fill":"independent"},"legend":{"color":"independent","strokeDash":"independent"}},
"vconcat":[
{"width":358,"height":269,
 "title":{"text":"(a)\u00a0 118-bus system","orient":"bottom","font":"Liberation Serif","fontSize":19.5,"fontWeight":"normal","color":"#000000","anchor":"middle","offset":6,"dx":-6},
 "data":{"name":"d"},
 "transform":[{"filter":"datum.p == 1"}],
 "encoding":{"x":{"field":"x","type":"quantitative","scale":{"domain":[-2.6,51]},"axis":{"values":[0,10,20,30,40,50],"format":"d","title":"training episode","titlePadding":5}}},
 "layer":[
  {"mark":{"type":"area","fillOpacity":0.15,"clip":true},
   "encoding":{"y":{"field":"l","type":"quantitative","scale":{"domain":[2256,2385.3],"nice":false,"zero":false},"axis":{"values":[2260,2280,2300,2320,2340,2360,2380],"format":"d","title":"validation day average cost (k$)","titlePadding":6}},"y2":{"field":"h"},
   "fill":{"field":"k","type":"nominal","scale":{"range":["#0000ff","#008000","#ffa500","#ff0000"]},"legend":null}}},
  {"mark":{"type":"line","strokeWidth":1.5,"clip":true},
   "encoding":{"y":{"field":"m","type":"quantitative","scale":{"domain":[2256,2385.3],"nice":false,"zero":false},"axis":{"values":[2260,2280,2300,2320,2340,2360,2380],"format":"d","title":"validation day average cost (k$)","titlePadding":6}},
   "color":{"field":"k","type":"nominal","scale":{"domain":[1,2,3,4],"range":["#0000ff","#008000","#ffa500","#ff0000"]},"legend":{"title":null,"orient":"top-right","offset":4,"labelExpr":"datum.label + 'th Initial Setup'"}},
   "strokeDash":{"field":"k","type":"nominal","scale":{"domain":[1,2,3,4],"range":[[1,0],[5.5,2.4],[9.6,2.4,1.5,2.4],[1.5,2.5]]},"legend":{"title":null,"orient":"top-right","offset":4,"labelExpr":"datum.label + 'th Initial Setup'"}}}}
 ]},
{"width":358,"height":270,
 "title":{"text":"(b)\u00a0 300-bus system","orient":"bottom","font":"Liberation Serif","fontSize":19.5,"fontWeight":"normal","color":"#000000","anchor":"middle","offset":6,"dx":-6},
 "data":{"name":"d"},
 "transform":[{"filter":"datum.p == 2"}],
 "encoding":{"x":{"field":"x","type":"quantitative","scale":{"domain":[-2.6,51]},"axis":{"values":[0,10,20,30,40,50],"format":"d","title":"training episode","titlePadding":5}}},
 "layer":[
  {"mark":{"type":"area","fillOpacity":0.15,"clip":true},
   "encoding":{"y":{"field":"l","type":"quantitative","scale":{"domain":[2687.1,2838.1],"nice":false,"zero":false},"axis":{"values":[2700,2720,2740,2760,2780,2800,2820],"format":"d","title":"validation day average cost (k$)","titlePadding":6}},"y2":{"field":"h"},
   "fill":{"field":"k","type":"nominal","scale":{"range":["#0000ff","#008000","#ffa500","#ff0000"]},"legend":null}}},
  {"mark":{"type":"line","strokeWidth":1.5,"clip":true},
   "encoding":{"y":{"field":"m","type":"quantitative","scale":{"domain":[2687.1,2838.1],"nice":false,"zero":false},"axis":{"values":[2700,2720,2740,2760,2780,2800,2820],"format":"d","title":"validation day average cost (k$)","titlePadding":6}},
   "color":{"field":"k","type":"nominal","scale":{"domain":[1,2,3,4],"range":["#0000ff","#008000","#ffa500","#ff0000"]},"legend":{"title":null,"orient":"top-right","offset":4,"labelExpr":"datum.label + 'th Initial Setup'"}},
   "strokeDash":{"field":"k","type":"nominal","scale":{"domain":[1,2,3,4],"range":[[1,0],[5.5,2.4],[9.6,2.4,1.5,2.4],[1.5,2.5]]},"legend":{"title":null,"orient":"top-right","offset":4,"labelExpr":"datum.label + 'th Initial Setup'"}}}}
 ]},
{"width":358,"height":267,
 "title":{"text":"(c)\u00a0 500-bus system","orient":"bottom","font":"Liberation Serif","fontSize":19.5,"fontWeight":"normal","color":"#000000","anchor":"middle","offset":6,"dx":-6},
 "data":{"name":"d"},
 "transform":[{"filter":"datum.p == 3"}],
 "encoding":{"x":{"field":"x","type":"quantitative","scale":{"domain":[-2.6,51]},"axis":{"values":[0,10,20,30,40,50],"format":"d","title":"training episode","titlePadding":5}}},
 "layer":[
  {"mark":{"type":"area","fillOpacity":0.15,"clip":true},
   "encoding":{"y":{"field":"l","type":"quantitative","scale":{"domain":[2850,3100],"nice":false,"zero":false},"axis":{"values":[2850,2900,2950,3000,3050,3100],"format":"d","title":"validation day average cost (k$)","titlePadding":6}},"y2":{"field":"h"},
   "fill":{"field":"k","type":"nominal","scale":{"range":["#0000ff","#008000","#ffa500","#ff0000"]},"legend":null}}},
  {"mark":{"type":"line","strokeWidth":1.5,"clip":true},
   "encoding":{"y":{"field":"m","type":"quantitative","scale":{"domain":[2850,3100],"nice":false,"zero":false},"axis":{"values":[2850,2900,2950,3000,3050,3100],"format":"d","title":"validation day average cost (k$)","titlePadding":6}},
   "color":{"field":"k","type":"nominal","scale":{"domain":[1,2,3,4],"range":["#0000ff","#008000","#ffa500","#ff0000"]},"legend":{"title":null,"orient":"top-right","offset":4,"labelExpr":"datum.label + 'th Initial Setup'"}},
   "strokeDash":{"field":"k","type":"nominal","scale":{"domain":[1,2,3,4],"range":[[1,0],[5.5,2.4],[9.6,2.4,1.5,2.4],[1.5,2.5]]},"legend":{"title":null,"orient":"top-right","offset":4,"labelExpr":"datum.label + 'th Initial Setup'"}}}}
 ]}
]
}
